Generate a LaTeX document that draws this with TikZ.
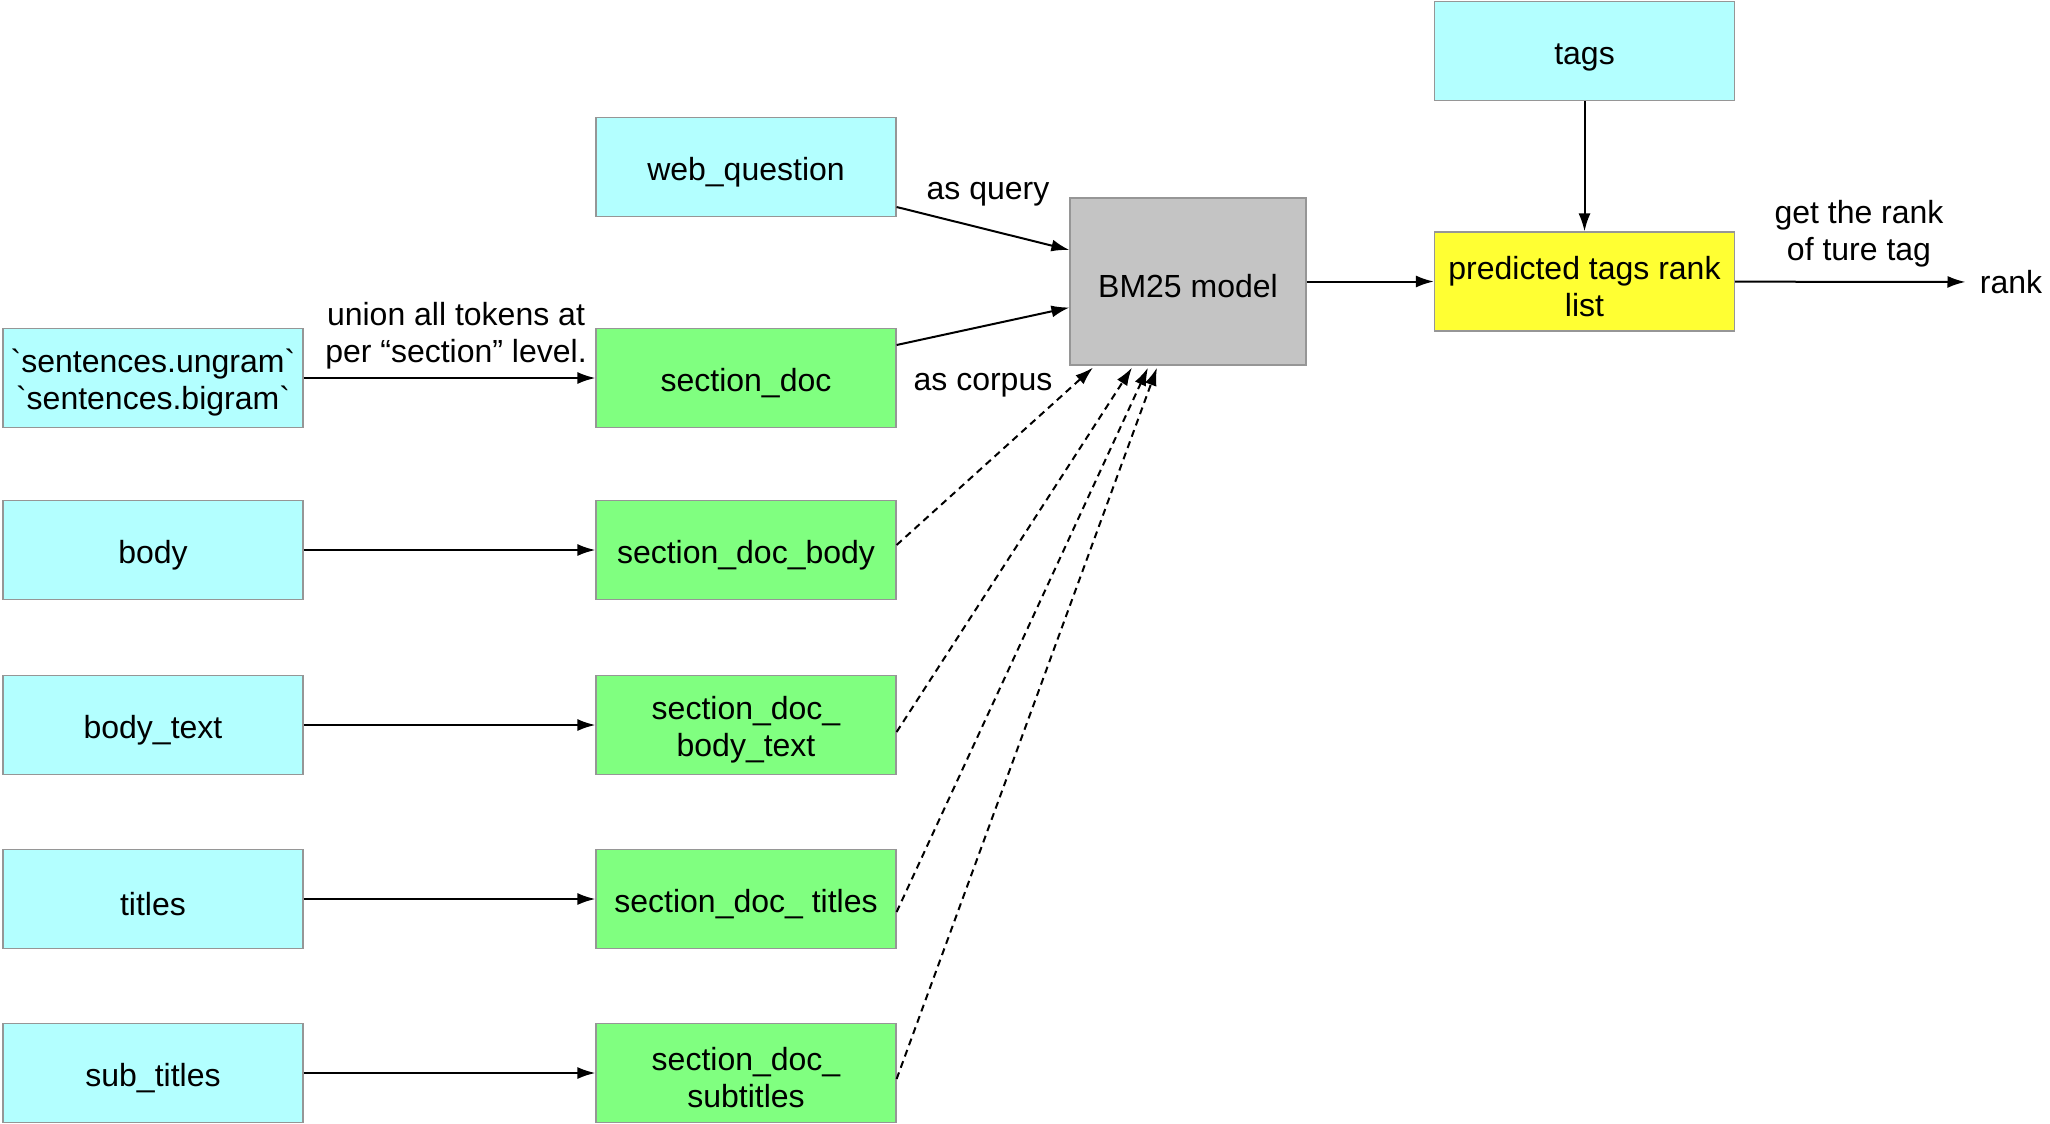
\documentclass[tikz,border=0pt]{standalone}
\usepackage{fontspec}
\setmainfont{Liberation Sans}
\usetikzlibrary{arrows.meta}

\definecolor{srccyan}{RGB}{179,255,255}
\definecolor{docgreen}{RGB}{128,255,128}
\definecolor{modelgray}{RGB}{196,196,196}
\definecolor{rankyellow}{RGB}{255,255,51}
\definecolor{edgegray}{RGB}{150,150,150}

\newcommand{\toprule}{\rule{0pt}{16.5pt}}

\tikzset{
    box/.style={draw=edgegray, line width=0.6pt, minimum width=150pt, minimum height=49.5pt,
                inner sep=0pt, align=center, font=\fontsize{16}{18.5}\selectfont,
                execute at begin node={\toprule}},
    srcbox/.style={box, fill=srccyan},
    docbox/.style={box, fill=docgreen},
    lbl/.style={align=center, inner sep=0pt, font=\fontsize{16}{18.5}\selectfont},
    flow/.style={line width=1pt, color=black, -{Latex[length=9pt, width=6pt]}},
    corpus/.style={flow, dash pattern=on 3.5pt off 2.5pt}
}

\begin{document}
\begin{tikzpicture}[x=0.5pt, y=-0.5pt]
        \useasboundingbox (0, 0) rectangle (2050, 1124);

        % Sources:
        \node[srcbox] (sent) at (153, 378) {\toprule\textasciigrave sentences.ungram\textasciigrave\\\textasciigrave sentences.bigram\textasciigrave};
        \node[srcbox] (body) at (153, 550) {body};
        \node[srcbox] (bodytext) at (153, 725) {body\_text};
        \node[srcbox] (titles) at (153, 899) {titles};
        \node[srcbox] (subtitles) at (153, 1073) {sub\_titles};

        % Section documents:
        \node[srcbox] (webq) at (746, 167) {web\_question};
        \node[docbox] (secdoc) at (746, 378) {section\_doc};
        \node[docbox] (secbody) at (746, 550) {section\_doc\_body};
        \node[docbox] (secbodytext) at (746, 725) {\toprule section\_doc\_\\body\_text};
        \node[docbox] (sectitles) at (746, 899) {section\_doc\_ titles};
        \node[docbox] (secsubtitles) at (746, 1073) {\toprule section\_doc\_\\subtitles};

        % Model and ranking:
        \node[box, fill=modelgray, minimum width=118pt, minimum height=83.5pt] (bm) at (1188, 281.5) {BM25 model};
        \node[srcbox] (tags) at (1584.5, 51) {tags};
        \node[box, fill=rankyellow] (pred) at (1584.5, 281.5) {\toprule predicted tags rank\\list};
        \node[lbl, inner xsep=7pt] (rank) at (2011, 282) {rank};

        % Labels:
        \node[lbl] (unionlbl) at (456, 336) {union all tokens at\\per “section” level.};
        \node[lbl] (querylbl) at (988, 194) {as query};
        \node[lbl] (corpuslbl) at (983, 385) {as corpus};
        \node[lbl] (ranklbl) at (1859, 234) {get the rank\\of ture tag};

        % Arrows:
        \draw[flow] (sent) -- (secdoc);
        \draw[flow] (body) -- (secbody);
        \draw[flow] (bodytext) -- (secbodytext);
        \draw[flow] (titles) -- (sectitles);
        \draw[flow] (subtitles) -- (secsubtitles);

        \draw[flow] ([yshift=-20pt]webq.east) -- ([yshift=15.75pt]bm.west);
        \draw[flow] ([yshift=16.5pt]secdoc.east) -- ([yshift=-13pt]bm.west);
        \draw[flow] (bm) -- (pred);
        \draw[flow] (tags) -- (pred);
        \draw[flow] (pred) -- (rank);

        % Corpus arrows:
        \draw[corpus] ([yshift=2.5pt]secbody.east) -- ([xshift=-47.5pt, yshift=-1pt]bm.south);
        \draw[corpus] ([yshift=-3.5pt]secbodytext.east) -- ([xshift=-28pt, yshift=-1pt]bm.south);
        \draw[corpus] ([yshift=-6.5pt]sectitles.east) -- ([xshift=-20pt, yshift=-1pt]bm.south);
        \draw[corpus] ([yshift=-3pt]secsubtitles.east) -- ([xshift=-15.5pt, yshift=-1pt]bm.south);
    \end{tikzpicture}
\end{document}
